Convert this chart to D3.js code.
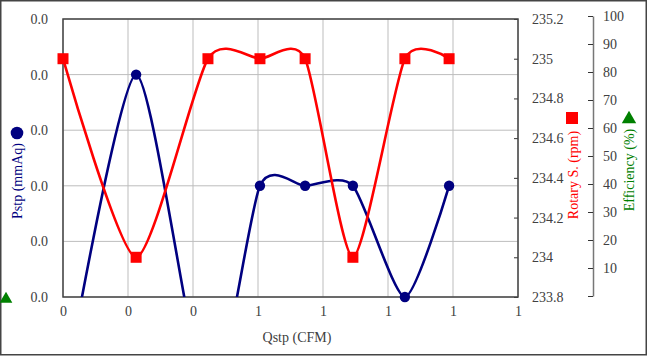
<!DOCTYPE html>
<html><head><meta charset="utf-8">
<script src="https://cdn.jsdelivr.net/npm/d3@7"></script>
<style>body{margin:0;background:#fff}svg{display:block}text{font-family:"Liberation Serif",serif}</style>
</head><body><svg id="c" width="647" height="356"></svg>
<script>
const qstp    = [0, 0.225, 0.446, 0.606, 0.745, 0.892, 1.052, 1.188];
const pstp    = [-0.015, 0.032, -0.015, 0.016, 0.016, 0.016, 0.0, 0.016];
const rotary  = [235, 234, 235, 235, 235, 234, 235, 235];
const xTicks  = [0, 0.2, 0.4, 0.6, 0.8, 1.0, 1.2, 1.4];
const pTicks  = [0, 0.008, 0.016, 0.024, 0.032, 0.04];
const rTicks  = [233.8, 234, 234.2, 234.4, 234.6, 234.8, 235, 235.2];
const eTicks  = [0, 10, 20, 30, 40, 50, 60, 70, 80, 90, 100];

const svg = d3.select("#c");
const L = 63, R = 518, T = 19, B = 297;
const x = d3.scaleLinear().domain([0, 1.4]).range([L, R]);
const yP = d3.scaleLinear().domain([0, 0.04]).range([B, T]);
const yR = d3.scaleLinear().domain([233.8, 235.2]).range([B, T]);
const yE = d3.scaleLinear().domain([0, 100]).range([296, 16]);
const axisCol = "#404040";
const FF = "Liberation Serif";

svg.append("rect").attr("x", 0.75).attr("y", 0.75).attr("width", 645.5).attr("height", 354)
  .attr("fill", "none").attr("stroke", "#444").attr("stroke-width", 1.5);

const g = svg.append("g");
g.selectAll("line.v").data(xTicks).join("line")
  .attr("x1", d => x(d)).attr("x2", d => x(d)).attr("y1", T).attr("y2", B)
  .attr("stroke", "#bdbdbd").attr("stroke-width", 1);
g.selectAll("line.h").data(pTicks).join("line")
  .attr("x1", L).attr("x2", R).attr("y1", d => yP(d)).attr("y2", d => yP(d))
  .attr("stroke", "#bdbdbd").attr("stroke-width", 1);

svg.append("clipPath").attr("id", "clip").append("rect")
  .attr("x", L).attr("y", T).attr("width", R - L).attr("height", B - T);

function styleAxis(a) {
  a.attr("font-family", FF);
  a.selectAll("text").attr("font-size", 14).attr("fill", axisCol).attr("font-family", FF);
}
const xa = svg.append("g").attr("transform", `translate(0,${B})`)
  .call(d3.axisBottom(x).tickValues(xTicks).tickFormat(d3.format(".0f")).tickSize(0).tickPadding(9));
xa.select(".domain").remove(); styleAxis(xa);

const la = svg.append("g").attr("transform", `translate(${L},0)`)
  .call(d3.axisLeft(yP).tickValues(pTicks).tickFormat(d3.format(".1f")).tickSize(0).tickPadding(15));
la.select(".domain").remove(); styleAxis(la);

const ra = svg.append("g").attr("transform", `translate(${R},0)`)
  .call(d3.axisRight(yR).tickValues(rTicks).tickFormat(d => String(+d.toFixed(1))).tickSizeInner(-4).tickSizeOuter(0).tickPadding(14));
ra.select(".domain").remove();
ra.selectAll("line").attr("stroke", "#333"); styleAxis(ra);

const ea = svg.append("g").attr("transform", `translate(593,0)`)
  .call(d3.axisRight(yE).tickValues(eTicks).tickFormat(d => d === 0 ? "" : d).tickSizeInner(-5).tickSizeOuter(0).tickPadding(10));
ea.select(".domain").attr("stroke", "#777").attr("stroke-width", 1.5);
ea.selectAll("line").attr("stroke", "#333"); styleAxis(ea);

svg.append("rect").attr("x", L).attr("y", T).attr("width", R - L).attr("height", B - T)
  .attr("fill", "none").attr("stroke", "#444").attr("stroke-width", 1.5);

const curve = d3.curveCardinal.tension(0.325);
const ptsP = qstp.map((q, i) => [q, pstp[i]]);
svg.append("path").attr("clip-path", "url(#clip)")
  .attr("d", d3.line().x(d => x(d[0])).y(d => yP(d[1])).curve(curve)(ptsP))
  .attr("fill", "none").attr("stroke", "#000080").attr("stroke-width", 2.6);
const ptsR = qstp.map((q, i) => [q, rotary[i]]);
svg.append("path")
  .attr("d", d3.line().x(d => x(d[0])).y(d => yR(d[1])).curve(curve)(ptsR))
  .attr("fill", "none").attr("stroke", "#ff0000").attr("stroke-width", 2.6);

svg.append("g").selectAll("circle").data(ptsP.filter(d => d[1] >= 0 && d[1] <= 0.04)).join("circle")
  .attr("cx", d => x(d[0])).attr("cy", d => yP(d[1])).attr("r", 5.2).attr("fill", "#000080");
svg.append("g").selectAll("rect").data(ptsR).join("rect")
  .attr("x", d => x(d[0]) - 5.5).attr("y", d => yR(d[1]) - 5.5).attr("width", 11).attr("height", 11).attr("fill", "#ff0000");

svg.append("text").attr("transform", "translate(22,181) rotate(-90)").attr("text-anchor", "middle")
  .attr("font-family", FF).attr("font-size", 14).attr("fill", "#000080").text("Pstp (mmAq)");
svg.append("circle").attr("cx", 17).attr("cy", 133).attr("r", 6.3).attr("fill", "#000080");
svg.append("path").attr("d", d3.symbol(d3.symbolTriangle, 70)()).attr("transform", "translate(6,299)").attr("fill", "#008000");

svg.append("text").attr("transform", "translate(578,175) rotate(-90)").attr("text-anchor", "middle")
  .attr("font-family", FF).attr("font-size", 14).attr("fill", "#ff0000").text("Rotary S. (rpm)");
svg.append("rect").attr("x", 566).attr("y", 112).attr("width", 12).attr("height", 12).attr("fill", "#ff0000");

svg.append("text").attr("transform", "translate(634,170) rotate(-90)").attr("text-anchor", "middle")
  .attr("font-family", FF).attr("font-size", 14).attr("fill", "#008000").text("Efficiency (%)");
svg.append("path").attr("d", d3.symbol(d3.symbolTriangle, 90)()).attr("transform", "translate(629,119)").attr("fill", "#008000");

svg.append("text").attr("x", 297).attr("y", 342).attr("text-anchor", "middle")
  .attr("font-family", FF).attr("font-size", 14).attr("fill", axisCol).text("Qstp (CFM)");
</script></body></html>
